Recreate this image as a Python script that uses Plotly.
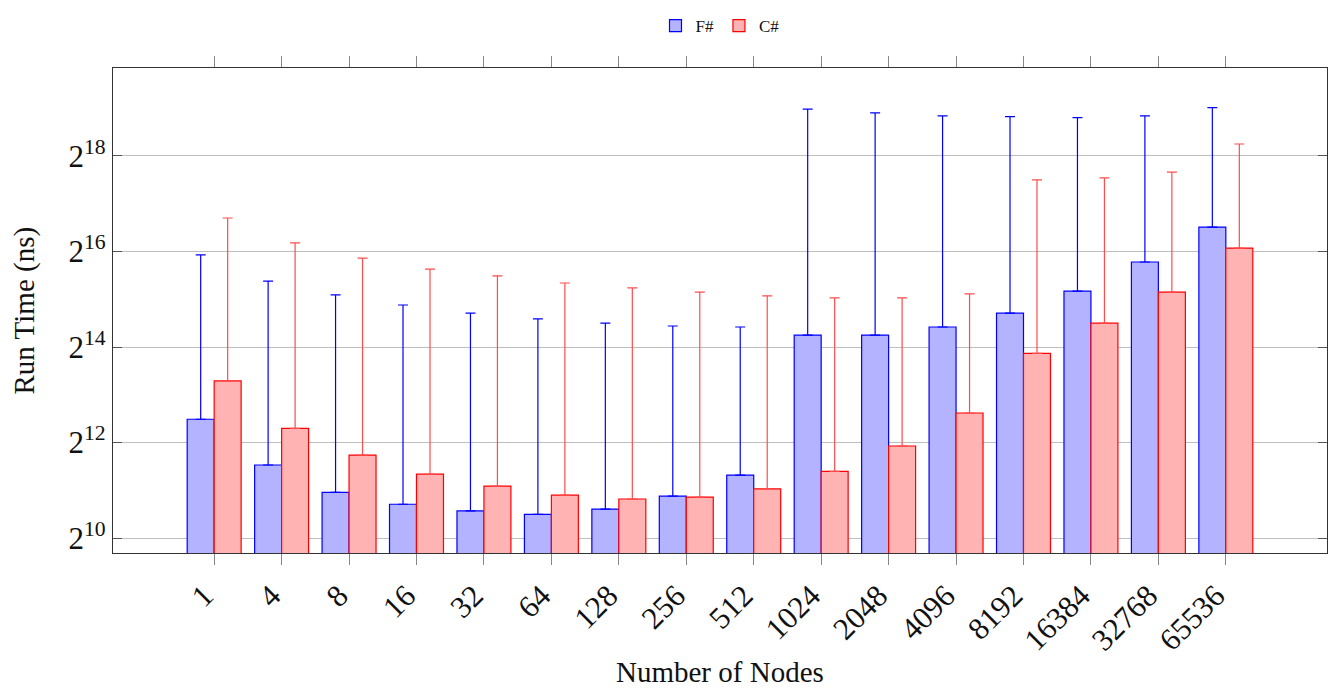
import plotly.graph_objects as go
import math

nodes = ["1", "4", "8", "16", "32", "64", "128", "256", "512", "1024",
         "2048", "4096", "8192", "16384", "32768", "65536"]

# mean run time (ns)
fs_mean = [5750, 2960, 1990, 1675, 1520, 1448, 1563, 1884, 2557, 19480,
           19480, 21920, 26800, 36870, 56270, 93330]
cs_mean = [10020, 5043, 3421, 2593, 2180, 1911, 1808, 1858, 2091, 2702,
           3901, 6296, 14970, 23170, 36370, 68830]

# upper error (ns)
fs_err = [56670, 39680, 32890, 28480, 25280, 23210, 21610, 20350, 19360, 497500,
          469600, 447300, 436100, 419500, 412900, 434700]
cs_err = [96480, 69210, 56060, 48130, 43830, 39570, 36890, 34510, 32320, 30760,
          29560, 29090, 170400, 167400, 170700, 242900]

y_exps = [10, 12, 14, 16, 18]

FONT = "Liberation Serif"

fig = go.Figure()
fig.add_trace(go.Bar(
    x=nodes, y=fs_mean, name="F#",
    marker=dict(color="#b3b3ff", line=dict(color="#0000ff", width=1.2)),
    error_y=dict(type="data", symmetric=False, array=fs_err,
                 arrayminus=[0] * len(fs_err), color="#0000ff",
                 thickness=1.2, width=5),
))
fig.add_trace(go.Bar(
    x=nodes, y=cs_mean, name="C#",
    marker=dict(color="#ffb3b3", line=dict(color="#ff0000", width=1.2)),
    error_y=dict(type="data", symmetric=False, array=cs_err,
                 arrayminus=[0] * len(cs_err), color="#ff4d4d",
                 thickness=1.2, width=5),
))

# page body adds an 8px offset; compensate in the figure geometry
fig.update_layout(
    width=1328, height=683,
    margin=dict(l=105, r=9, t=60, b=138),
    paper_bgcolor="white", plot_bgcolor="white",
    barmode="group", bargap=0.2, bargroupgap=0,
    font=dict(family=FONT, color="#111"),
    showlegend=True,
    legend=dict(orientation="h", x=0.5, xanchor="center", y=1.0, yref="container",
                yanchor="top", font=dict(size=17, family=FONT),
                bgcolor="rgba(0,0,0,0)", itemwidth=30),
    xaxis=dict(
        type="category", range=[-1.5, 16.5], automargin=False,
        tickangle=-45, tickfont=dict(size=31, family=FONT),
        ticklabelshift=-10,
        ticks="outside", ticklen=11, tickcolor="#888", tickwidth=1,
        showline=True, linecolor="#333", linewidth=1.2, mirror="ticks",
        showgrid=False,
    ),
    yaxis=dict(
        type="log", automargin=False,
        range=[9.69 * math.log10(2), 19.84 * math.log10(2)],
        tickvals=[2 ** e for e in y_exps],
        ticktext=["2<sup>%d</sup>" % e for e in y_exps],
        tickfont=dict(size=31, family=FONT),
        ticks="inside", ticklen=9, tickcolor="#555", tickwidth=1,
        showline=True, linecolor="#333", linewidth=1.2, mirror="ticks",
        showgrid=True, gridcolor="#bfbfbf", gridwidth=1,
        zeroline=False,
    ),
    annotations=[
        dict(text="Number of Nodes", xref="paper", yref="paper", x=0.5, y=-0.245,
             xanchor="center", yanchor="middle", showarrow=False,
             font=dict(size=29, family=FONT)),
        dict(text="Run Time (ns)", xref="paper", yref="paper", x=-0.0725, y=0.5,
             xanchor="center", yanchor="middle", showarrow=False, textangle=-90,
             font=dict(size=29, family=FONT)),
    ],
)

fig.write_html("out.html")
